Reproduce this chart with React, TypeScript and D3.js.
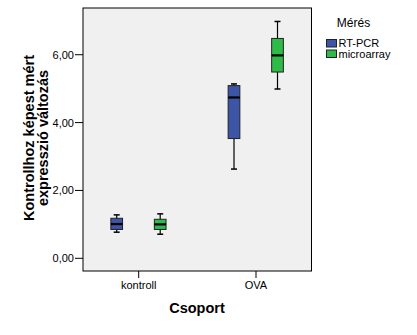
import React from "react";
import * as d3 from "d3";

const groups = ["kontroll", "OVA"];
const series = ["RT-PCR", "microarray"];
// [whiskerLow, q1, median, q3, whiskerHigh] per group
const rtpcr = [
  [0.77, 0.85, 1.01, 1.18, 1.28],
  [2.63, 3.53, 4.74, 5.09, 5.14],
];
const microarray = [
  [0.71, 0.85, 1.0, 1.15, 1.31],
  [4.99, 5.49, 5.98, 6.48, 6.98],
];
const yTicks = [0, 2, 4, 6];
const colors = ["#3c55a6", "#2fbb47"];

const W = 417;
const H = 335;
const plot = { left: 83, right: 311.5, top: 8, bottom: 271 };

export default function App() {
  const y = d3.scaleLinear().domain([-0.374, 7.377]).range([plot.bottom, plot.top]);
  const x = d3.scalePoint<string>().domain(groups).range([138.7, 256]);
  const offs = d3.scalePoint<string>().domain(series).range([-22, 21.5]);
  const bw = 11.7;
  const data = [rtpcr, microarray];
  const fmt = (v: number) => d3.format(".2f")(v).replace(".", ",");
  const font = "'Liberation Sans', Arial, sans-serif";

  return (
    <svg width={W} height={H} style={{ display: "block", position: "absolute", left: 0, top: 0 }} fontFamily={font}>
      <rect x={0} y={0} width={W} height={H} fill="#ffffff" />
      <rect x={plot.left} y={plot.top} width={plot.right - plot.left} height={plot.bottom - plot.top} fill="#f0f0f0" stroke="#000" strokeWidth={1} />
      {yTicks.map((t) => (
        <g key={t}>
          <line x1={75} x2={plot.left} y1={y(t)} y2={y(t)} stroke="#000" />
          <text x={74} y={y(t) + 4} fontSize={11} textAnchor="end" fill="#000">{fmt(t)}</text>
        </g>
      ))}
      {groups.map((g) => (
        <g key={g}>
          <line x1={x(g)!} x2={x(g)!} y1={plot.bottom} y2={plot.bottom + 7} stroke="#000" />
          <text x={x(g)!} y={plot.bottom + 18} fontSize={11} textAnchor="middle" fill="#000">{g}</text>
        </g>
      ))}
      {series.map((s, si) =>
        groups.map((g, gi) => {
          const [lo, q1, med, q3, hi] = data[si][gi];
          const cx = x(g)! + offs(s)!;
          return (
            <g key={s + g}>
              <line x1={cx} x2={cx} y1={y(hi)} y2={y(lo)} stroke="#000" strokeWidth={1.2} />
              <line x1={cx - 3} x2={cx + 3} y1={y(hi)} y2={y(hi)} stroke="#000" strokeWidth={1.5} />
              <line x1={cx - 3} x2={cx + 3} y1={y(lo)} y2={y(lo)} stroke="#000" strokeWidth={1.5} />
              <rect x={cx - bw / 2} y={y(q3)} width={bw} height={y(q1) - y(q3)} fill={colors[si]} stroke="#222" strokeWidth={1} />
              <line x1={cx - bw / 2} x2={cx + bw / 2} y1={y(med)} y2={y(med)} stroke="#000" strokeWidth={2.2} />
            </g>
          );
        })
      )}
      <text x={197} y={313} fontSize={14.5} fontWeight="bold" textAnchor="middle" fill="#000">Csoport</text>
      <text transform={`translate(33.5,138) rotate(-90)`} fontSize={14.5} fontWeight="bold" textAnchor="middle" fill="#000">Kontrollhoz képest mért</text>
      <text transform={`translate(47.5,138) rotate(-90)`} fontSize={14.5} fontWeight="bold" textAnchor="middle" fill="#000">expresszió változás</text>
      <text x={353.5} y={27} fontSize={12} textAnchor="middle" fill="#000">Mérés</text>
      {series.map((s, i) => (
        <g key={s}>
          <rect x={326.5} y={39.5 + i * 10.5} width={10} height={7.5} fill={colors[i]} stroke="#222" strokeWidth={1} />
          <text x={338.5} y={47 + i * 10.5} fontSize={11} fill="#000">{s}</text>
        </g>
      ))}
    </svg>
  );
}
